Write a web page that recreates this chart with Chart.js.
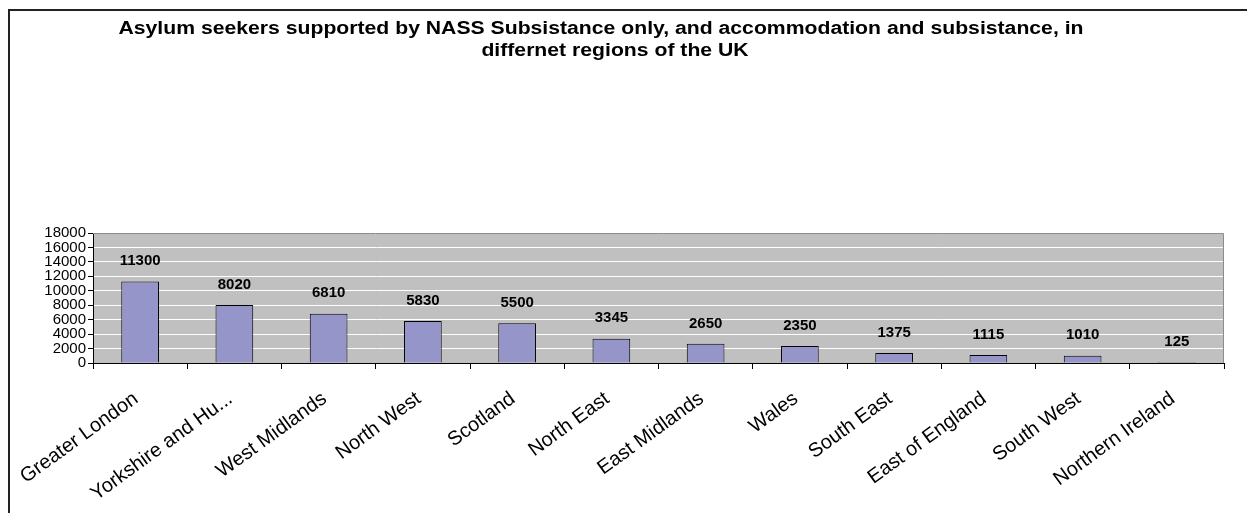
<!DOCTYPE html>
<html>
<head>
<meta charset="utf-8">
<script src="https://cdn.jsdelivr.net/npm/chart.js@4.4.1/dist/chart.umd.min.js"></script>
<style>
    html, body { margin: 0; padding: 0; background: #fff; }
    #wrap { position: relative; width: 1247px; height: 513px; overflow: hidden; }
    #frame { position: absolute; left: 8px; top: 9px; width: 1250px; height: 520px;
             border-left: 2px solid #222; border-top: 2px solid #222; }
    canvas { position: absolute; left: 0; top: 0; }
</style>
</head>
<body>
<div id="wrap">
    <div id="frame"></div>
    <canvas id="regionChart" width="1247" height="513"></canvas>
</div>
<script>
const regions = ['Greater London', 'Yorkshire and Hu...', 'West Midlands', 'North West', 'Scotland',
    'North East', 'East Midlands', 'Wales', 'South East', 'East of England', 'South West', 'Northern Ireland'];
const seekers = [11300, 8020, 6810, 5830, 5500, 3345, 2650, 2350, 1375, 1115, 1010, 125];
const titleLines = ['Asylum seekers supported by NASS Subsistance only, and accommodation and subsistance, in',
    'differnet regions of the UK'];
const yMax = 18000;
const yStep = 2000;

const FONT = 'Arial, "Liberation Sans", sans-serif';

// grey plot background like the old Excel charts
const plotBg = {
    id: 'plotBg',
    beforeDraw(chart) {
        const a = chart.chartArea;
        const c = chart.ctx;
        c.save();
        c.fillStyle = '#c0c0c0';
        c.fillRect(a.left, a.top, a.right - a.left, a.bottom - a.top);
        c.restore();
    },
    beforeDatasetsDraw(chart) {
        const a = chart.chartArea;
        const c = chart.ctx;
        c.save();
        c.strokeStyle = '#8c8c8c';
        c.lineWidth = 1;
        c.beginPath();
        c.moveTo(a.left, a.top + 0.5);
        c.lineTo(a.right - 0.5, a.top + 0.5);
        c.lineTo(a.right - 0.5, a.bottom);
        c.stroke();
        c.restore();
    }
};

// value labels above the bars
const barLabels = {
    id: 'barLabels',
    afterDatasetsDraw(chart) {
        const c = chart.ctx;
        const meta = chart.getDatasetMeta(0);
        c.save();
        c.font = 'bold 15px ' + FONT;
        c.fillStyle = '#000';
        c.textAlign = 'center';
        c.textBaseline = 'bottom';
        meta.data.forEach((bar, i) => {
            c.fillText(String(seekers[i]), bar.x, bar.y - 13);
        });
        c.restore();
    }
};

// two line title, the source picture is a bit wider than plain Arial
const titleText = {
    id: 'titleText',
    afterDraw(chart) {
        const c = chart.ctx;
        c.save();
        c.font = 'bold 18px ' + FONT;
        c.fillStyle = '#000';
        c.textAlign = 'center';
        c.textBaseline = 'middle';
        const sx = 965 / c.measureText(titleLines[0]).width;
        c.scale(sx, 1);
        c.fillText(titleLines[0], 601 / sx, 29);
        c.fillText(titleLines[1], 615 / sx, 51);
        c.restore();
    }
};

const ctx = document.getElementById('regionChart').getContext('2d');
new Chart(ctx, {
    type: 'bar',
    data: {
        labels: regions,
        datasets: [{
            data: seekers,
            backgroundColor: '#9595c9',
            borderColor: '#000',
            borderWidth: 1,
            barPercentage: 0.8,
            categoryPercentage: 0.5
        }]
    },
    options: {
        responsive: false,
        animation: false,
        devicePixelRatio: 1,
        layout: {
            padding: { left: 0, top: 233, right: 23, bottom: 0 }
        },
        plugins: {
            legend: { display: false },
            title: { display: false },
            tooltip: { enabled: false }
        },
        scales: {
            y: {
                min: 0,
                max: yMax,
                afterFit: s => { s.width = 93; },
                ticks: {
                    stepSize: yStep,
                    autoSkip: false,
                    callback: v => String(v),
                    color: '#000',
                    padding: 2,
                    font: { size: 15, family: FONT }
                },
                grid: {
                    color: '#fff',
                    lineWidth: 1,
                    tickLength: 5,
                    tickColor: '#000'
                },
                border: { color: '#000', width: 1 }
            },
            x: {
                afterFit: s => { s.height = 150; },
                ticks: {
                    color: '#000',
                    minRotation: 36,
                    maxRotation: 36,
                    autoSkip: false,
                    padding: 18,
                    labelOffset: -4,
                    font: { size: 20, family: FONT }
                },
                grid: {
                    offset: true,
                    drawOnChartArea: false,
                    tickLength: 6,
                    tickColor: '#000'
                },
                border: { color: '#000', width: 1 }
            }
        }
    },
    plugins: [plotBg, barLabels, titleText]
});
</script>
</body>
</html>
